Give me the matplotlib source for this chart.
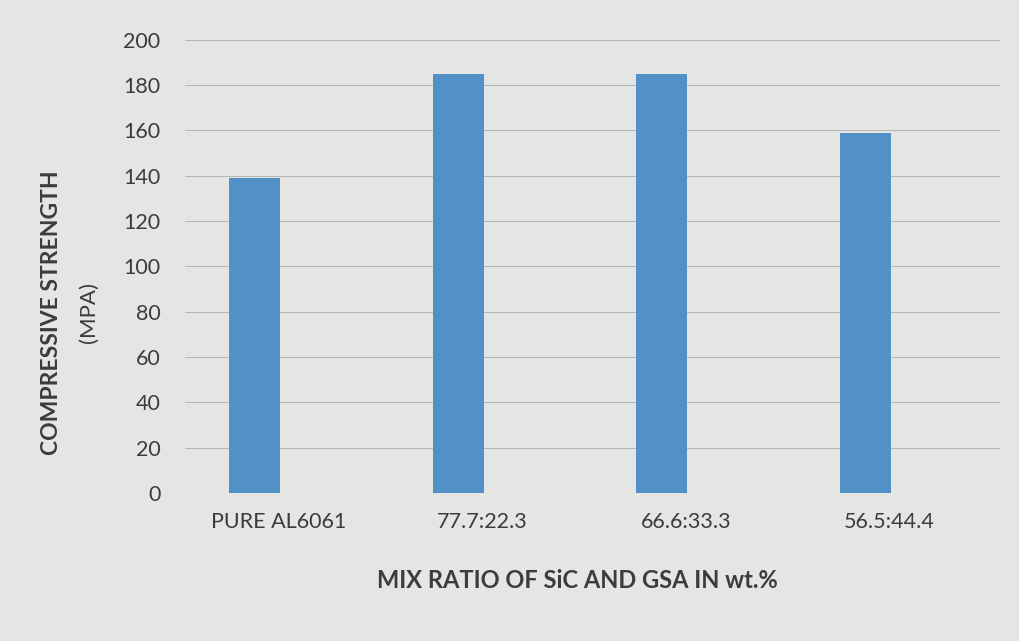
import matplotlib.pyplot as plt
from matplotlib.transforms import ScaledTranslation

# ─── Data ────────────────────────────────────────────────────────────────────
categories = ['PURE AL6061', '77.7:22.3', '66.6:33.3', '56.5:44.4']
strength = [139, 185, 185, 159]
y_ticks = [0, 20, 40, 60, 80, 100, 120, 140, 160, 180, 200]

BG = '#e5e5e3'
TXT = '#3f3b3c'
BAR = '#5290c8'

plt.rcParams['font.family'] = ['Lato', 'DejaVu Sans']

# ─── Plot ────────────────────────────────────────────────────────────────────
fig = plt.figure(figsize=(10.19, 6.41), dpi=100, facecolor=BG)
ax = fig.add_axes([0.182, 0.231, 0.799, 0.707])
ax.set_facecolor(BG)

x = range(len(categories))
ax.bar(x, strength, width=0.25, color=BAR, zorder=3)

ax.set_ylim(0, 200)
ax.set_xlim(-0.34, 3.66)
ax.set_yticks(y_ticks)
ax.set_xticks(list(x))
ax.set_xticklabels(categories)
ax.tick_params(axis='both', length=0, labelsize=15.5, colors=TXT)
ax.tick_params(axis='y', pad=18)
ax.tick_params(axis='x', pad=14)
ax.grid(axis='y', color='#b4b4b2', linewidth=0.7, zorder=0)
for s in ax.spines.values():
    s.set_visible(False)

# category labels sit a little right of the bars in the reference
shift = ScaledTranslation(0.24, 0, fig.dpi_scale_trans)
for lbl in ax.get_xticklabels():
    lbl.set_transform(lbl.get_transform() + shift)

fig.text(0.051, 0.512, 'COMPRESSIVE STRENGTH', rotation=90, ha='center', va='center',
         fontsize=16.5, fontweight='bold', color=TXT)
fig.text(0.087, 0.512, '(MPA)', rotation=90, ha='center', va='center',
         fontsize=16, color=TXT)
fig.text(0.567, 0.095, 'MIX RATIO OF SiC AND GSA IN wt.%', ha='center', va='center',
         fontsize=17, fontweight='bold', color=TXT)

fig.savefig('out.png', dpi=100, facecolor=BG)
plt.close()
